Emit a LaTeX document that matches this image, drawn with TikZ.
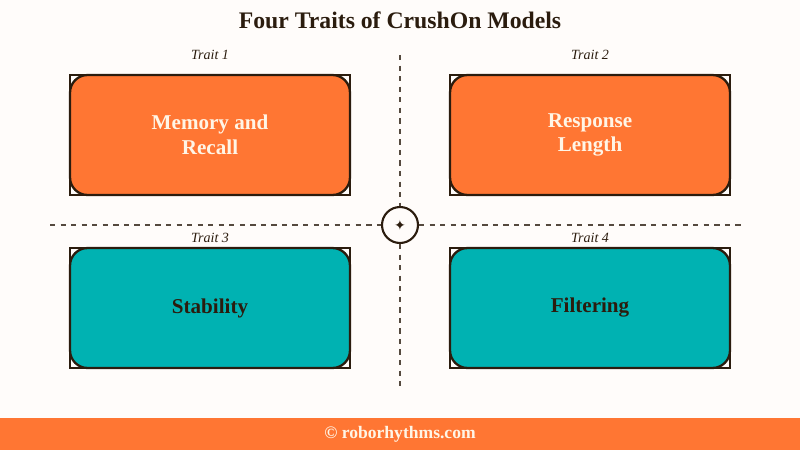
\documentclass[tikz,border=0pt]{standalone}
\usepackage{fontspec}
\setmainfont{Liberation Serif}
\newfontfamily\symfont{DejaVu Sans}
\definecolor{rrorange}{RGB}{255,118,51}
\definecolor{rrteal}{RGB}{0,178,178}
\definecolor{rrdark}{RGB}{43,28,14}
\definecolor{rrcream}{RGB}{255,252,250}
\definecolor{rrtext}{RGB}{255,245,230}
\usetikzlibrary{positioning}
\tikzset{
  trait/.style={draw=rrdark, line width=1.3pt, rounded corners=10pt, minimum width=5.6cm, minimum height=2.4cm, align=center, font=\bfseries\large},
  frame/.style={draw=rrdark, line width=1.3pt, fill=rrcream, minimum width=5.6cm, minimum height=2.4cm},
  tag/.style={font=\itshape\footnotesize, text=rrdark},
  divider/.style={dashed, rrdark!80, line width=0.8pt}
}
\begin{document}
\begin{tikzpicture}[x=0.02cm, y=-0.02cm]
  \useasboundingbox [fill=rrcream] (0,0) rectangle (800,450);

  \node [font=\bfseries\fontsize{13.5}{16}\selectfont, text=rrdark] (title) at (400,20) {Four Traits of CrushOn Models};

  % dividers
  \coordinate (top) at (400,55);
  \coordinate (bottom) at (400,390);
  \coordinate (left) at (50,225);
  \coordinate (right) at (745,225);
  \node [circle, draw=rrdark, line width=1.2pt, fill=rrcream, minimum size=0.72cm, inner sep=0pt, font=\symfont\footnotesize, text=rrdark] (hub) at (400,225) {✦};
  \draw [divider] (top) -- (hub);
  \draw [divider] (hub) -- (bottom);
  \draw [divider] (left) -- (hub);
  \draw [divider] (hub) -- (right);

  % trait boxes
  \foreach \x/\y/\ty/\c/\n/\t/\k in {210/135/55/rrorange/tone/{Memory and\\Recall}/1,
                                590/135/55/rrorange/ttwo/{Response\\Length}/2,
                                210/308/238/rrteal/tthree/{Stability}/3,
                                590/308/238/rrteal/tfour/{Filtering}/4} {
    \node [frame] at (\x,\y) {};
    \node [trait, fill=\c, text={\ifnum\k<3 rrtext\else rrdark\fi}] (\n) at (\x,\y) {\t};
    \node [tag] (tag\k) at (\x,\ty) {Trait \k};
  }

  % footer
  \fill [rrorange] (0,418) rectangle (800,450);
  \node [font=\bfseries, text=rrtext] (site) at (400,434) {© roborhythms.com};
\end{tikzpicture}
\end{document}
